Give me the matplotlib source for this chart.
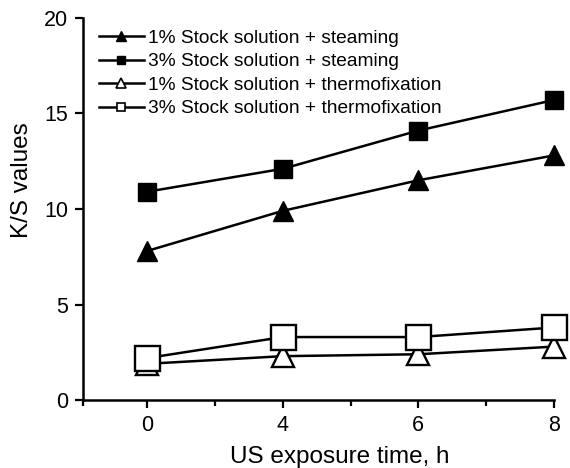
import matplotlib
matplotlib.use("Agg")
import matplotlib.pyplot as plt
from matplotlib.ticker import FixedLocator

plt.rcParams["font.family"] = ["Liberation Sans", "DejaVu Sans"]

# exposure times are shown as evenly spaced categories
times = ["0", "4", "6", "8"]
steam_1 = [7.8, 9.9, 11.5, 12.8]
steam_3 = [10.9, 12.1, 14.1, 15.7]
thermo_1 = [1.9, 2.3, 2.4, 2.8]
thermo_3 = [2.2, 3.3, 3.3, 3.8]
labels = [
    "1% Stock solution + steaming",
    "3% Stock solution + steaming",
    "1% Stock solution + thermofixation",
    "3% Stock solution + thermofixation",
]

pos = list(range(len(times)))

fig = plt.figure(figsize=(5.70, 4.68), dpi=100)
ax = fig.add_axes([0.146, 0.145, 0.826, 0.817])

lw = 1.8
ax.plot(pos, steam_1, color="black", lw=lw, marker="^", ms=14, mfc="black", mec="black", clip_on=False)
ax.plot(pos, steam_3, color="black", lw=lw, marker="s", ms=13, mfc="black", mec="black", clip_on=False)
ax.plot(pos, thermo_1, color="black", lw=lw, marker="^", ms=16, mfc="white", mec="black", mew=1.7, clip_on=False)
ax.plot(pos, thermo_3, color="black", lw=lw, marker="s", ms=18, mfc="white", mec="black", mew=1.7, clip_on=False)

# small legend handles, drawn as proxies
handles = [
    ax.plot([], [], color="black", lw=lw, marker="^", ms=7, mfc="black")[0],
    ax.plot([], [], color="black", lw=lw, marker="s", ms=6, mfc="black")[0],
    ax.plot([], [], color="black", lw=lw, marker="^", ms=7, mfc="white", mew=1.2)[0],
    ax.plot([], [], color="black", lw=lw, marker="s", ms=6, mfc="white", mew=1.2)[0],
]
ax.legend(handles, labels, loc="upper left", bbox_to_anchor=(0.01, 1.0),
          frameon=False, fontsize=13.8, handlelength=2.3, handletextpad=0.25,
          labelspacing=0.32, borderaxespad=0.2)

ax.set_xlim(-0.47, 3.0)
ax.set_ylim(0, 20)
ax.set_xticks(pos)
ax.set_xticklabels(times)
ax.xaxis.set_minor_locator(FixedLocator([-0.47, 0.5, 1.5, 2.5]))
ax.set_yticks([0, 5, 10, 15, 20])

for side in ("top", "right"):
    ax.spines[side].set_visible(False)
for side in ("left", "bottom"):
    ax.spines[side].set_linewidth(1.8)

ax.tick_params(axis="both", which="major", direction="out", length=6, width=1.6,
               labelsize=15.5)
ax.tick_params(axis="y", which="major", pad=5)
ax.tick_params(axis="x", which="major", pad=5)
ax.tick_params(axis="x", which="minor", direction="out", length=4, width=1.6)

ax.set_xlabel("US exposure time, h", fontsize=17.5, labelpad=7, x=0.545)
ax.set_ylabel("K/S values", fontsize=17.5, labelpad=8, y=0.575)

fig.savefig("out.png", dpi=100)
